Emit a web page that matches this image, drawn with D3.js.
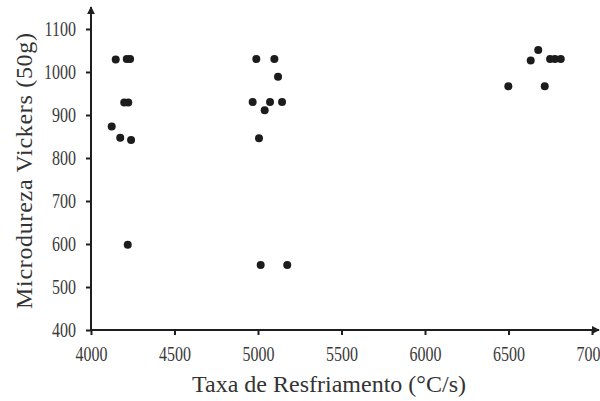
<!DOCTYPE html>
<html>
<head>
<meta charset="utf-8">
<script src="https://cdn.jsdelivr.net/npm/d3@7"></script>
<style>
  body { margin: 0; background: #fff; }
  .tick text { font-family: "Liberation Serif", "Times New Roman", serif; font-size: 20px; fill: #3a3a3a; }
  .axis-title { font-family: "Liberation Serif", "Times New Roman", serif; font-size: 24px; fill: #333; }
</style>
</head>
<body>
<div id="vis"></div>
<script>
// data
const RATE = [4148, 4214, 4234, 4199, 4223, 4124, 4175, 4240, 4220,
              4990, 5098, 5120, 4968, 5072, 5144, 5040, 5006, 5016, 5175,
              6678, 6633, 6749, 6778, 6813, 6499, 6717];
const HARDNESS = [1029, 1030, 1030, 929, 929, 873, 847, 842, 598,
                  1030, 1030, 989, 930, 930, 930, 911, 846, 551, 551,
                  1051, 1027, 1030, 1030, 1030, 967, 967];
const X_TICKS = [4000, 4500, 5000, 5500, 6000, 6500, 7000];
const Y_TICKS = [400, 500, 600, 700, 800, 900, 1000, 1100];

const FRAME_WIDTH = 600;
const FRAME_HEIGHT = 401;
const MARGINS = {left: 91, right: 8, top: 29, bottom: 71};
const SQUEEZE = 0.8; // tick digits are narrow in the original

const VIS_WIDTH = 592 - MARGINS.left;
const VIS_HEIGHT = FRAME_HEIGHT - MARGINS.top - MARGINS.bottom;

const FRAME = d3.select("#vis")
                .append("svg")
                  .attr("width", FRAME_WIDTH)
                  .attr("height", FRAME_HEIGHT);

const X_SCALE = d3.scaleLinear().domain([4000, 7000]).range([0, VIS_WIDTH]);
const Y_SCALE = d3.scaleLinear().domain([400, 1100]).range([VIS_HEIGHT, 0]);

// arrow head
FRAME.append("defs").append("marker")
      .attr("id", "arrow")
      .attr("viewBox", "0 0 10 10")
      .attr("refX", 9).attr("refY", 5)
      .attr("markerWidth", 4).attr("markerHeight", 4)
      .attr("orient", "auto")
    .append("path")
      .attr("d", "M0,0 L10,5 L0,10 z")
      .attr("fill", "#1e1e1e");

// x axis
const xAxis = FRAME.append("g")
      .attr("transform", "translate(" + MARGINS.left + "," + (MARGINS.top + VIS_HEIGHT) + ")")
      .call(d3.axisBottom(X_SCALE).tickValues(X_TICKS).tickFormat(d3.format("d"))
              .tickSize(5).tickPadding(12));
xAxis.select(".domain").remove();
xAxis.selectAll(".tick line").attr("stroke", "#1e1e1e").attr("stroke-width", 2);
xAxis.selectAll(".tick text").attr("transform", "scale(" + SQUEEZE + ",1)");

// y axis
const yAxis = FRAME.append("g")
      .attr("transform", "translate(" + MARGINS.left + "," + MARGINS.top + ")")
      .call(d3.axisLeft(Y_SCALE).tickValues(Y_TICKS).tickFormat(d3.format("d"))
              .tickSize(5).tickPadding(10));
yAxis.select(".domain").remove();
yAxis.selectAll(".tick line").attr("stroke", "#1e1e1e").attr("stroke-width", 2);
yAxis.selectAll(".tick text")
      .attr("x", -15 / SQUEEZE)
      .attr("transform", "scale(" + SQUEEZE + ",1)");

// axis lines with arrows
FRAME.append("line")
      .attr("x1", MARGINS.left - 1).attr("y1", MARGINS.top + VIS_HEIGHT)
      .attr("x2", 599).attr("y2", MARGINS.top + VIS_HEIGHT)
      .attr("stroke", "#1e1e1e").attr("stroke-width", 2)
      .attr("marker-end", "url(#arrow)");
FRAME.append("line")
      .attr("x1", MARGINS.left).attr("y1", MARGINS.top + VIS_HEIGHT + 1)
      .attr("x2", MARGINS.left).attr("y2", 7)
      .attr("stroke", "#1e1e1e").attr("stroke-width", 2)
      .attr("marker-end", "url(#arrow)");

// points
FRAME.selectAll("points")
      .data(RATE)
      .enter()
      .append("circle")
        .attr("cx", (d) => { return X_SCALE(d) + MARGINS.left; })
        .attr("cy", (d, i) => { return Y_SCALE(HARDNESS[i]) + MARGINS.top; })
        .attr("r", 4)
        .attr("fill", "#1c1c1c");

// titles
FRAME.append("text")
      .attr("class", "axis-title")
      .attr("x", 329).attr("y", 392)
      .attr("text-anchor", "middle")
      .attr("textLength", 274)
      .text("Taxa de Resfriamento (°C/s)");

FRAME.append("text")
      .attr("class", "axis-title")
      .attr("transform", "translate(32," + 171 + ") rotate(-90)")
      .attr("text-anchor", "middle")
      .attr("textLength", 276)
      .text("Microdureza Vickers (50g)");
</script>
</body>
</html>
